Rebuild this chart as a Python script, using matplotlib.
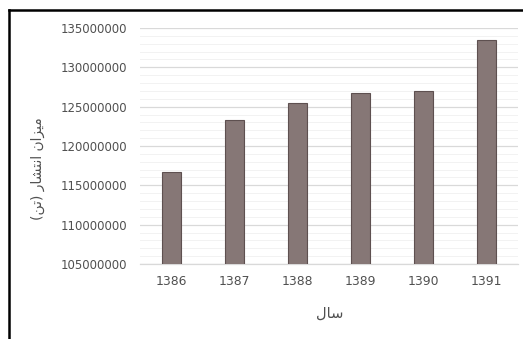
import matplotlib
matplotlib.use("Agg")
import matplotlib.pyplot as plt
from matplotlib.lines import Line2D
from matplotlib.ticker import MultipleLocator, FuncFormatter

years = ["1386", "1387", "1388", "1389", "1390", "1391"]
emissions = [116700000, 123300000, 125500000, 126750000, 127000000, 133500000]
y_ticks = [105000000, 110000000, 115000000, 120000000, 125000000, 130000000, 135000000]

# Persian labels, pre-shaped in visual order (matplotlib has no bidi shaping)
ylabel_text = "(\uFEE6\uFE97) \uFEAD\uFE8E\uFEB8\uFE98\uFEE7\uFE8D \uFEE5\uFE8D\uFEB0\uFBFF\uFEE3"  # میزان انتشار (تن)
xlabel_text = "\uFEDD\uFE8E\uFEB3"  # سال

W, H = 523, 339
fig = plt.figure(figsize=(W / 100, H / 100), dpi=100)
fig.patch.set_facecolor("white")

def fx(px):
    return px / W

def fy(py):
    return 1 - py / H

ax = fig.add_axes([fx(140), fy(264), fx(518) - fx(140), fy(28) - fy(264)])
x = list(range(len(years)))
ax.bar(x, emissions, width=0.31, color="#867776", edgecolor="#5e5050", linewidth=0.8, zorder=3)
ax.set_xlim(-0.5, len(years) - 0.5)
ax.set_ylim(y_ticks[0], y_ticks[-1])
ax.set_yticks(y_ticks)
ax.yaxis.set_minor_locator(MultipleLocator(1000000))
ax.yaxis.set_major_formatter(FuncFormatter(lambda v, p: f"{int(round(v))}"))
ax.set_xticks(x)
ax.set_xticklabels(years)

ax.grid(axis="y", which="major", color="#d9d9d9", linewidth=0.9, zorder=0)
ax.grid(axis="y", which="minor", color="#f2f2f2", linewidth=0.7, zorder=0)
for s in ["top", "right", "left"]:
    ax.spines[s].set_visible(False)
ax.spines["bottom"].set_color("#d9d9d9")
ax.spines["bottom"].set_linewidth(0.9)
ax.tick_params(axis="y", which="both", length=0, colors="#505050", labelsize=8.5, pad=9)
ax.tick_params(axis="x", which="both", length=0, colors="#505050", labelsize=8.9, pad=8)

fig.text(fx(330), fy(313), xlabel_text, ha="center", va="center",
         fontsize=10.5, color="#505050", family=["DejaVu Sans"])
fig.text(fx(38), fy(169), ylabel_text, ha="center", va="center", rotation=90,
         fontsize=10, color="#505050", family=["DejaVu Sans"])

# outer frame (partial, cropped picture)
fig.add_artist(Line2D([fx(9), fx(9)], [fy(10), 0], color="black", linewidth=1.8))
fig.add_artist(Line2D([fx(9), 1], [fy(10), fy(10)], color="black", linewidth=1.8))

fig.savefig("out.png", dpi=100, facecolor="white")
